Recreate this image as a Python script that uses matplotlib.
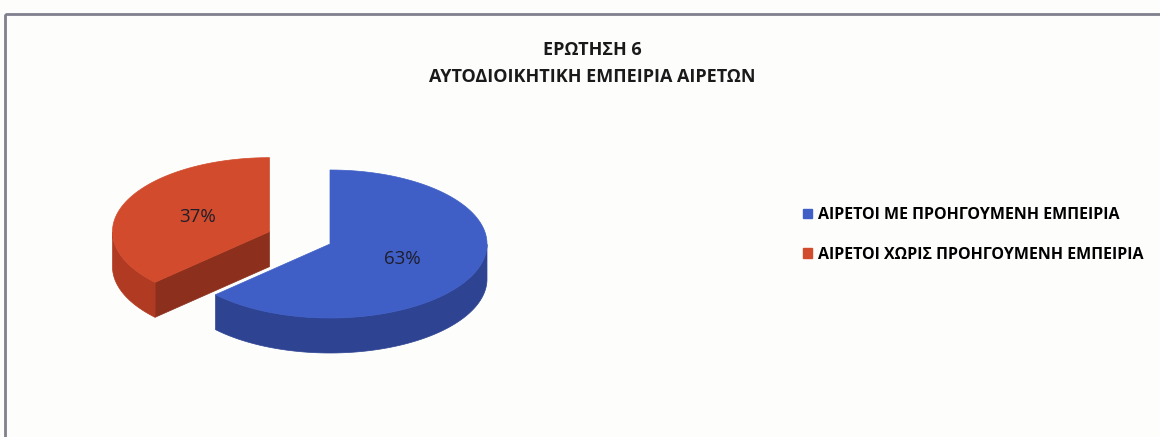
import numpy as np
import matplotlib
matplotlib.use('Agg')
import matplotlib.pyplot as plt
from matplotlib.patches import Polygon, Patch, Rectangle

plt.rcParams['font.family'] = ['Open Sans', 'DejaVu Sans']

# ─── data ───
title_lines = ['ΕΡΩΤΗΣΗ 6', 'ΑΥΤΟΔΙΟΙΚΗΤΙΚΗ ΕΜΠΕΙΡΙΑ ΑΙΡΕΤΩΝ']
labels = ['ΑΙΡΕΤΟΙ ΜΕ ΠΡΟΗΓΟΥΜΕΝΗ ΕΜΠΕΙΡΙΑ', 'ΑΙΡΕΤΟΙ ΧΩΡΙΣ ΠΡΟΗΓΟΥΜΕΝΗ ΕΜΠΕΙΡΙΑ']
shares = [63, 37]
explode = [0.0, 0.42]

# ─── style ───
top_colors = ['#3F5FC6', '#D24B2C']
side_colors = ['#2E4493', '#B03B22']
cut_colors = ['#2A3C80', '#8C2F1D']

W, H = 1160, 437
CX, CY = 330, 244      # pie centre (pixels)
RX, RY = 157, 74       # ellipse radii of top face
DEPTH = 35             # thickness of the pie
START = 90             # first slice starts at 12 o'clock, goes clockwise


def pt(theta, cx, cy, dz=0.0):
    t = np.radians(theta)
    return np.column_stack([cx + RX * np.cos(t), cy - RY * np.sin(t) + dz])


fig = plt.figure(figsize=(W / 100, H / 100), dpi=100, facecolor='#FDFEFC')
ax = fig.add_axes([0, 0, 1, 1])
ax.set_xlim(0, W)
ax.set_ylim(H, 0)
ax.axis('off')

# chart border (top + left only visible)
ax.add_patch(Rectangle((5, 14), W + 20, H + 20, fill=False,
                       edgecolor='#80808E', linewidth=2))

# ─── slices ───
total = float(sum(shares))
slices = []
acc = 0.0
for i, v in enumerate(shares):
    a0 = START - acc / total * 360
    a1 = a0 - v / total * 360
    acc += v
    mid = (a0 + a1) / 2
    cx = CX + explode[i] * RX * np.cos(np.radians(mid))
    cy = CY - explode[i] * RY * np.sin(np.radians(mid))
    slices.append((i, a0, a1, mid, cx, cy))

# draw back-to-front
for i, a0, a1, mid, cx, cy in sorted(slices, key=lambda s: s[5]):
    # radial cut faces
    for a, n in ((a0, a0 + 90), (a1, a1 - 90)):
        if np.sin(np.radians(n)) < -1e-6:
            e = pt(a, cx, cy)[0]
            face = [[cx, cy], e, [e[0], e[1] + DEPTH], [cx, cy + DEPTH]]
            ax.add_patch(Polygon(face, closed=True, facecolor=cut_colors[i],
                                 edgecolor=cut_colors[i], linewidth=0.5))
    # outer curved side (front part only)
    t = np.linspace(a1, a0, 300)
    tf = t[np.sin(np.radians(t)) <= 1e-9]
    if len(tf) > 1:
        side = np.vstack([pt(tf, cx, cy), pt(tf[::-1], cx, cy, DEPTH)])
        ax.add_patch(Polygon(side, closed=True, facecolor=side_colors[i],
                             edgecolor=side_colors[i], linewidth=0.5))
    # top face
    top = np.vstack([[[cx, cy]], pt(t, cx, cy)])
    ax.add_patch(Polygon(top, closed=True, facecolor=top_colors[i],
                         edgecolor=top_colors[i], linewidth=0.5))
    # percentage label
    lp = (cx + 0.5 * RX * np.cos(np.radians(mid)),
          cy - 0.5 * RY * np.sin(np.radians(mid)))
    ax.text(lp[0], lp[1], f'{shares[i]}%', ha='center', va='center',
            fontsize=13.5, color='#1E1E2A')

# ─── title ───
ax.text(592, 50, title_lines[0], ha='center', va='center',
        fontsize=13, fontweight='bold', color='#1A1A1A')
ax.text(592, 77, title_lines[1], ha='center', va='center',
        fontsize=13, fontweight='bold', color='#1A1A1A')

# ─── legend ───
handles = [Patch(facecolor=c, edgecolor=c) for c in top_colors]
ax.legend(handles, labels, loc='center left',
          bbox_to_anchor=(795 / W, 1 - 235 / H), frameon=False,
          prop={'weight': 'bold', 'size': 11.5},
          handlelength=0.56, handleheight=0.56, handletextpad=0.4,
          labelspacing=1.5, borderpad=0)

fig.savefig('out.png', dpi=100, facecolor=fig.get_facecolor())
